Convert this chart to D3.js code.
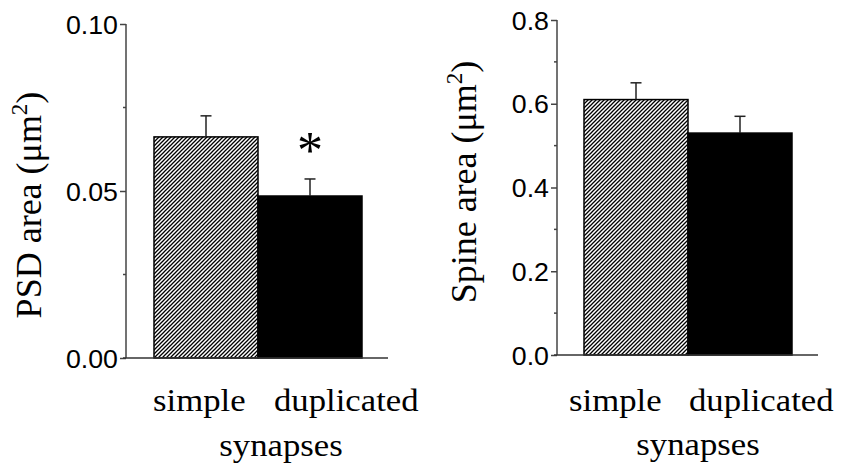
<!DOCTYPE html>
<html>
<head>
<meta charset="utf-8">
<script src="https://cdn.jsdelivr.net/npm/d3@7/dist/d3.min.js"></script>
<style>
  html, body { margin: 0; padding: 0; background: #fff; }
  svg { display: block; }
</style>
</head>
<body>
<svg id="chart" width="846" height="472"></svg>
<script>
// Group labels and tick values
const categories = ["simple", "duplicated"];
const psdMeans = [0.0662, 0.0485];
const psdErrors = [0.0063, 0.0051];
const psdTicks = [0.00, 0.05, 0.10];
const psdMinorTicks = [0.025, 0.075];
const spineMeans = [0.61, 0.53];
const spineErrors = [0.04, 0.04];
const spineTicks = [0.0, 0.2, 0.4, 0.6, 0.8];
const spineMinorTicks = [0.1, 0.3, 0.5, 0.7];
const significant = [false, true];

const svg = d3.select("#chart");
const STRETCH = 1.12;
const TICK_STRETCH = 1.07;
const serif = "'Liberation Serif', 'Times New Roman', serif";
const sans = "'Liberation Sans', Arial, sans-serif";

// Diagonal hatching for the "simple" bars
const defs = svg.append("defs");
const pat = defs.append("pattern")
  .attr("id", "hatch")
  .attr("patternUnits", "userSpaceOnUse")
  .attr("width", 4).attr("height", 4);
pat.append("rect").attr("width", 4).attr("height", 4).attr("fill", "#fff");
pat.append("path")
  .attr("d", "M-1,1 l2,-2 M0,4 l4,-4 M3,5 l2,-2")
  .attr("stroke", "#000").attr("stroke-width", 1.3);

function panel(cfg) {
  const g = svg.append("g");
  const x = d3.scaleBand().domain(categories).range(cfg.barRange).padding(0);
  const y = d3.scaleLinear().domain(cfg.domain).range([cfg.y0, cfg.y1]);

  // bars
  g.selectAll("rect.bar").data(cfg.means).join("rect")
    .attr("class", "bar")
    .attr("x", (d, i) => x(categories[i]))
    .attr("width", x.bandwidth())
    .attr("y", d => y(d))
    .attr("height", d => y(0) - y(d))
    .attr("fill", (d, i) => i === 0 ? "url(#hatch)" : "#000")
    .attr("stroke", "#000").attr("stroke-width", 1.5);

  // error bars (upper only)
  const cx = i => x(categories[i]) + x.bandwidth() / 2;
  const eb = g.append("g").attr("stroke", "#222").attr("stroke-width", 1.5);
  cfg.means.forEach((m, i) => {
    eb.append("line").attr("x1", cx(i)).attr("x2", cx(i))
      .attr("y1", y(m)).attr("y2", y(m + cfg.errors[i]));
    eb.append("line").attr("x1", cx(i) - 5.5).attr("x2", cx(i) + 5.5)
      .attr("y1", y(m + cfg.errors[i])).attr("y2", y(m + cfg.errors[i]));
  });

  // significance marks
  if (cfg.stars) {
    cfg.means.forEach((m, i) => {
      if (!significant[i]) return;
      g.append("text")
        .attr("x", cx(i)).attr("y", y(m + cfg.errors[i]) - 11)
        .attr("text-anchor", "middle")
        .attr("font-family", serif).attr("font-size", 52)
        .text("*");
    });
  }

  // y axis, major ticks with labels
  const yAxis = g.append("g")
    .attr("transform", `translate(${cfg.axisX},0)`)
    .call(d3.axisLeft(y).tickValues(cfg.ticks).tickSize(6).tickFormat(d3.format(cfg.fmt)));
  yAxis.select(".domain").attr("stroke", "#444").attr("stroke-width", 1.5)
    .attr("d", `M0,${y(0)}V${y(cfg.domain[1])}`);
  yAxis.selectAll(".tick line").attr("stroke", "#444").attr("stroke-width", 1.5);
  yAxis.selectAll(".tick text")
    .attr("x", null)
    .attr("dy", "0.36em")
    .attr("transform", `translate(-8,0) scale(${TICK_STRETCH},1)`)
    .attr("font-family", sans).attr("font-size", 25).attr("fill", "#000");

  // minor ticks
  g.append("g").selectAll("line").data(cfg.minor).join("line")
    .attr("x1", cfg.axisX - 3).attr("x2", cfg.axisX)
    .attr("y1", d => y(d)).attr("y2", d => y(d))
    .attr("stroke", "#444").attr("stroke-width", 1.5);

  // x axis baseline
  g.append("line")
    .attr("x1", cfg.axisX - 3).attr("x2", cfg.barRange[1] + 26)
    .attr("y1", y(0)).attr("y2", y(0))
    .attr("stroke", "#333").attr("stroke-width", 1.5);

  // category labels
  categories.forEach((c, i) => {
    g.append("text")
      .attr("transform", `translate(${x(c) + cfg.labelDx[i]},${cfg.labelY}) scale(${STRETCH},1)`)
      .attr("font-family", serif).attr("font-size", 31)
      .text(c);
  });
  g.append("text")
    .attr("transform", `translate(${cfg.titleX},${cfg.titleY}) scale(${STRETCH},1)`)
    .attr("text-anchor", "middle")
    .attr("font-family", serif).attr("font-size", 31)
    .text("synapses");

  // y axis title
  const yt = g.append("text")
    .attr("transform", `translate(${cfg.yTitleX},${cfg.yTitleY}) rotate(-90)`)
    .attr("text-anchor", "middle")
    .attr("font-family", serif).attr("font-size", 36);
  yt.append("tspan").text(cfg.yTitle + " (μm");
  yt.append("tspan").attr("font-size", 23).attr("dy", -14).text("2");
  yt.append("tspan").attr("dy", 14).text(")");
}

panel({
  means: psdMeans, errors: psdErrors, domain: [0, 0.10],
  ticks: psdTicks, minor: psdMinorTicks, fmt: ".2f",
  barRange: [154, 362], axisX: 126, y0: 358, y1: 24,
  stars: true,
  labelDx: [-1, 16], labelY: 411, titleX: 281, titleY: 456,
  yTitle: "PSD area", yTitleX: 41, yTitleY: 205
});

panel({
  means: spineMeans, errors: spineErrors, domain: [0, 0.8],
  ticks: spineTicks, minor: spineMinorTicks, fmt: ".1f",
  barRange: [584, 792], axisX: 557, y0: 355, y1: 20,
  stars: false,
  labelDx: [-15, 1], labelY: 411, titleX: 698, titleY: 455,
  yTitle: "Spine area", yTitleX: 476, yTitleY: 182
});
</script>
</body>
</html>
